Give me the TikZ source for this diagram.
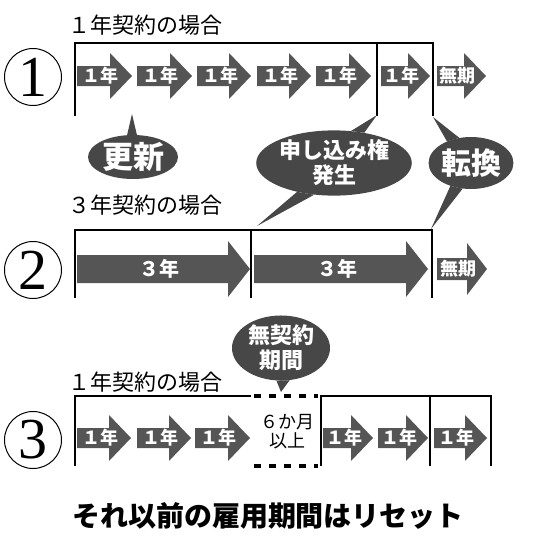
\documentclass[tikz,border=0pt]{standalone}
\usepackage{fontspec}
\newfontfamily\jp{Noto Sans CJK JP}
\setmainfont{Liberation Serif}
\usetikzlibrary{shapes.geometric}
\definecolor{arrg}{HTML}{555555}
\definecolor{bubg}{HTML}{474747}
\tikzset{
  bracket/.style={line width=2.4pt},
  dashbr/.style={line width=3.6pt, dash pattern=on 7pt off 8pt},
  arrfill/.style={fill=arrg},
  arrtext/.style={inner sep=0pt, text=white, font=\jp\bfseries\fontsize{18}{18}\selectfont},
  arrtextb/.style={inner sep=0pt, text=white, font=\jp\bfseries\fontsize{20}{20}\selectfont},
  rowlabel/.style={anchor=west, inner sep=0pt, font=\jp\fontsize{22}{22}\selectfont},
  numcirc/.style={circle, draw, line width=1pt, minimum size=57pt, inner sep=0pt, font=\fontsize{58}{58}\selectfont},
  bubble/.style={ellipse, fill=bubg, text=white, inner sep=0pt, align=center},
  ptr/.style={fill=bubg},
}
\newcommand\yarr[8]{%
  \fill[arrfill] ({#1},{#3-#4}) -- ({#2-#6},{#3-#4}) -- ({#2-#6},{#3-#5}) -- ({#2},{#3}) -- ({#2-#6},{#3+#5}) -- ({#2-#6},{#3+#4}) -- ({#1},{#3+#4}) -- cycle;
  \node[arrtext] (#8) at ({(#1+#2)/2-4},{#3}) {#7};}
\newcommand\yarrb[8]{%
  \fill[arrfill] ({#1},{#3-#4}) -- ({#2-#6},{#3-#4}) -- ({#2-#6},{#3-#5}) -- ({#2},{#3}) -- ({#2-#6},{#3+#5}) -- ({#2-#6},{#3+#4}) -- ({#1},{#3+#4}) -- cycle;
  \node[arrtextb] (#8) at ({(#1+#2)/2-4},{#3}) {#7};}
\begin{document}
\begin{tikzpicture}[x=1pt,y=-1pt]
\useasboundingbox (0,0) rectangle (533,560);
% ---------- row 1
\node[rowlabel] (l1) at (68,25) {１年契約の場合};
\node[numcirc] (c1) at (33,77) {1};
\draw[bracket] (75,116) -- (75,43) -- (433,43) -- (433,116);
\draw[bracket] (377,43) -- (377,116);
\coordinate (t1a) at (132,114);
\coordinate (t1b) at (377,115);
\coordinate (t1c) at (433,117);
\yarr{77}{132}{76}{10}{23}{22}{１年}{a11}
\yarr{137}{192}{76}{10}{23}{22}{１年}{a12}
\yarr{197}{251}{76}{10}{23}{22}{１年}{a13}
\yarr{257}{311}{76}{10}{23}{22}{１年}{a14}
\yarr{316}{371}{76}{10}{23}{22}{１年}{a15}
\yarr{381}{430}{76}{10}{23}{22}{１年}{a16}
\yarr{437}{486}{76}{10}{23}{22}{無期}{a17}
% ---------- bubbles
\node[bubble, minimum width=90pt, minimum height=44pt, font=\jp\bfseries\fontsize{31}{31}\selectfont] (koushin) at (133,157) {更新};
\node[bubble, minimum width=134pt, minimum height=58pt, font=\jp\bfseries\fontsize{22}{25}\selectfont] (moushi) at (334,163) {申し込み権\\発生};
\node[bubble, minimum width=82pt, minimum height=52pt, font=\jp\bfseries\fontsize{30}{30}\selectfont] (tenkan) at (471,163) {転換};
\fill[ptr] (t1a) -- (koushin.80) -- (koushin.105) -- cycle;
\fill[ptr] (t1b) -- (moushi.45) -- (moushi.62) -- cycle;
\fill[ptr] (t1c) -- (tenkan.115) -- (tenkan.138) -- cycle;
% ---------- row 2
\node[rowlabel] (l2) at (68,205) {３年契約の場合};
\node[numcirc] (c2) at (33,270) {2};
\draw[bracket] (75,298) -- (75,230) -- (432,230) -- (432,298);
\draw[bracket] (251,230) -- (251,298);
\coordinate (t2a) at (257,226);
\coordinate (t2b) at (431,229);
\fill[ptr] (t2a) -- (moushi.218) -- (moushi.238) -- cycle;
\fill[ptr] (t2b) -- (tenkan.228) -- (tenkan.252) -- cycle;
\yarrb{77}{250}{269}{14}{28}{22}{３年}{a21}
\yarrb{254}{428}{269}{14}{28}{22}{３年}{a22}
\yarr{437}{487}{269}{11}{26}{20}{無期}{a23}
% ---------- row 3
\node[bubble, minimum width=98pt, minimum height=54pt, font=\jp\bfseries\fontsize{22}{25}\selectfont] (mukei) at (281,348) {無契約\\期間};
\coordinate (t3) at (281,392);
\fill[ptr] (t3) -- (mukei.262) -- (mukei.285) -- cycle;
\node[rowlabel] (l3) at (68,382) {１年契約の場合};
\node[numcirc] (c3) at (33,440) {3};
\draw[bracket] (75,466) -- (75,396) -- (251,396);
\draw[dashbr] (254,396) -- (318,396);
\draw[dashbr] (254,466) -- (318,466);
\draw[bracket] (321,466) -- (321,396) -- (491,396) -- (491,466);
\draw[bracket] (430,396) -- (430,466);
\yarr{77}{131}{438}{10}{23}{22}{１年}{a31}
\yarr{137}{191}{438}{10}{23}{22}{１年}{a32}
\yarr{195}{250}{438}{10}{23}{22}{１年}{a33}
\node[inner sep=0pt, align=center, font=\jp\fontsize{18}{19}\selectfont] (six) at (287,432) {６か月\\以上};
\yarr{323}{373}{438}{10}{23}{22}{１年}{a34}
\yarr{378}{428}{438}{10}{23}{22}{１年}{a35}
\yarr{434}{487}{438}{10}{23}{22}{１年}{a36}
% ---------- bottom
\node[inner sep=0pt, font=\jp\bfseries\fontsize{28}{28}\selectfont] (reset) at (268,516) {それ以前の雇用期間はリセット};
\end{tikzpicture}
\end{document}
